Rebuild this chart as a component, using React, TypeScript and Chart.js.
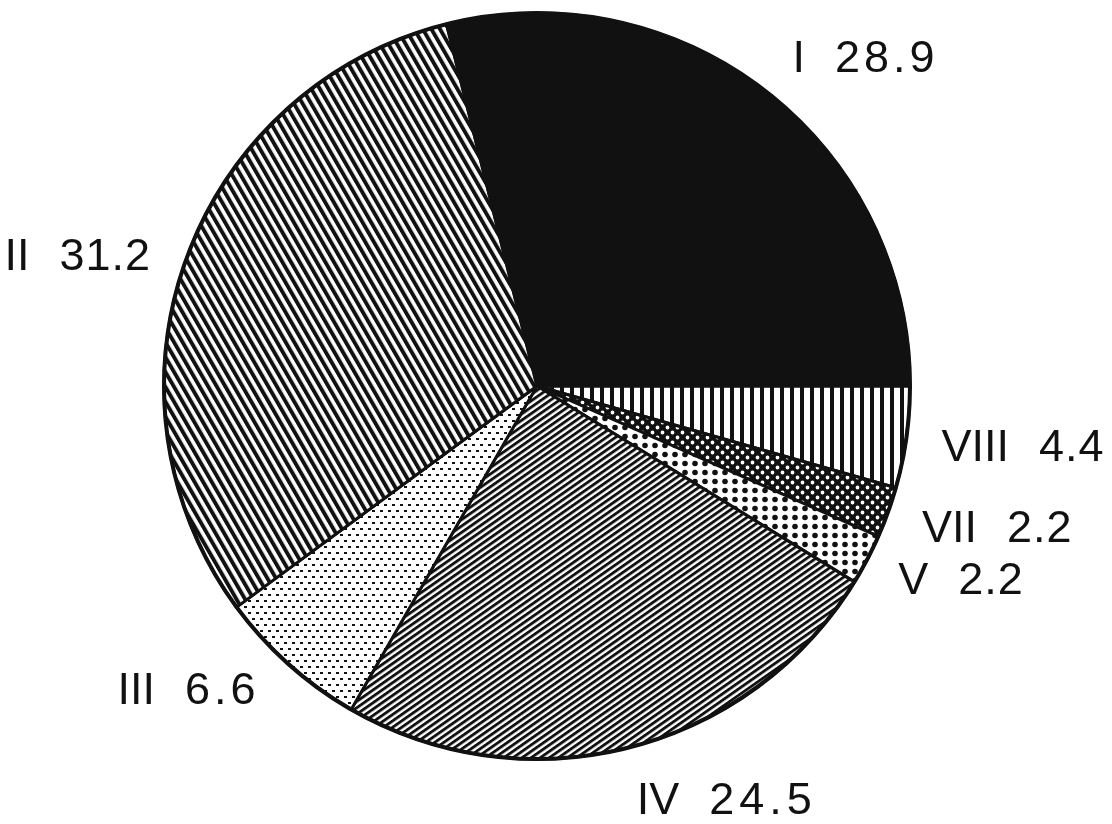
import React, { useEffect, useRef } from 'react';
import { Chart, registerables } from 'chart.js';

Chart.register(...registerables);

// Data (counter-clockwise from 3 o'clock in the reference)
const categories = ['I', 'II', 'III', 'IV', 'V', 'VII', 'VIII'];
const values = [28.9, 31.2, 6.6, 24.5, 2.2, 2.2, 4.4];
const valueLabels = ['28.9', '31.2', '6.6', '24.5', '2.2', '2.2', '4.4'];

// Label placement relative to the outer midpoint of each slice (styling only)
const labelPlacement: { dx: number; dy: number; align: 'left' | 'right'; ls: number }[] = [
  { dx: 26, dy: -32, align: 'left', ls: 4 },
  { dx: -36, dy: -2, align: 'right', ls: 1 },
  { dx: -33, dy: 27, align: 'right', ls: 4 },
  { dx: 8, dy: 54, align: 'left', ls: 5 },
  { dx: 31, dy: 22, align: 'left', ls: 1 },
  { dx: 34, dy: 17, align: 'left', ls: 1 },
  { dx: 35, dy: 11, align: 'left', ls: 1 },
];

const INK = '#111111';

function tile(w: number, h: number, draw: (c: CanvasRenderingContext2D) => void) {
  const c = document.createElement('canvas');
  c.width = w;
  c.height = h;
  const x = c.getContext('2d')!;
  x.fillStyle = '#ffffff';
  x.fillRect(0, 0, w, h);
  x.fillStyle = INK;
  draw(x);
  return c;
}

function makePatterns(ctx: CanvasRenderingContext2D) {
  const pat = (c: HTMLCanvasElement, m?: DOMMatrix) => {
    const p = ctx.createPattern(c, 'repeat')!;
    if (m) p.setTransform(m);
    return p;
  };
  // I: solid
  const pI = INK;
  // II: steep "\" stripes
  const pII = pat(
    tile(8, 8, (x) => x.fillRect(0, 0, 4.2, 8)),
    new DOMMatrix().rotateSelf(-30).scaleSelf(0.93, 0.93)
  );
  // III: fine staggered dashes
  const pIII = pat(
    tile(8, 12, (x) => {
      x.fillRect(0, 0, 3, 2);
      x.fillRect(4, 6, 3, 2);
    })
  );
  // IV: dense "/" stripes
  const pIV = pat(
    tile(6, 6, (x) => x.fillRect(0, 0, 3.3, 6)),
    new DOMMatrix().rotateSelf(55).scaleSelf(0.87, 0.87)
  );
  // V: coarse dots
  const pV = pat(
    tile(10, 9, (x) => {
      x.beginPath();
      x.arc(5, 4.5, 2.8, 0, Math.PI * 2);
      x.fill();
    })
  );
  // VII: black with white diamond dots
  const pVII = pat(
    tile(10, 10, (x) => {
      x.fillRect(0, 0, 10, 10);
      x.fillStyle = '#ffffff';
      x.beginPath();
      x.arc(2.5, 2.5, 1.9, 0, Math.PI * 2);
      x.arc(7.5, 7.5, 1.9, 0, Math.PI * 2);
      x.fill();
    })
  );
  // VIII: vertical stripes
  const pVIII = pat(tile(10, 10, (x) => x.fillRect(0, 0, 4, 10)));
  return [pI, pII, pIII, pIV, pV, pVII, pVIII];
}

const labelPlugin = {
  id: 'sliceLabels',
  afterDatasetsDraw(chart: any) {
    const ctx: any = chart.ctx;
    const meta = chart.getDatasetMeta(0);
    const n = categories.length;
    ctx.save();
    ctx.fillStyle = INK;
    ctx.font = '45px "Liberation Sans", Arial, sans-serif';
    ctx.textBaseline = 'middle';
    const gap = 30;
    meta.data.forEach((arc: any, j: number) => {
      const i = n - 1 - j; // chart order is reversed
      const p = arc.getProps(['x', 'y', 'startAngle', 'endAngle', 'outerRadius'], true);
      const mid = (p.startAngle + p.endAngle) / 2;
      const ax = p.x + Math.cos(mid) * p.outerRadius;
      const ay = p.y + Math.sin(mid) * p.outerRadius;
      const pl = labelPlacement[i];
      const tx = ax + pl.dx;
      const ty = ay + pl.dy;
      const name = categories[i];
      const val = valueLabels[i];
      ctx.letterSpacing = '0px';
      const nameW = ctx.measureText(name).width;
      ctx.letterSpacing = pl.ls + 'px';
      const valW = ctx.measureText(val).width - pl.ls;
      if (pl.align === 'left') {
        ctx.textAlign = 'left';
        ctx.letterSpacing = '0px';
        ctx.fillText(name, tx, ty);
        ctx.letterSpacing = pl.ls + 'px';
        ctx.fillText(val, tx + nameW + gap, ty);
      } else {
        ctx.textAlign = 'left';
        ctx.letterSpacing = pl.ls + 'px';
        ctx.fillText(val, tx - valW, ty);
        ctx.letterSpacing = '0px';
        ctx.fillText(name, tx - valW - gap - nameW, ty);
      }
    });
    ctx.letterSpacing = '0px';
    // outer outline
    const a0 = meta.data[0].getProps(['x', 'y', 'outerRadius'], true);
    ctx.beginPath();
    ctx.lineWidth = 4;
    ctx.strokeStyle = INK;
    ctx.arc(a0.x, a0.y, a0.outerRadius, 0, Math.PI * 2);
    ctx.stroke();
    ctx.restore();
  },
};

const bgPlugin = {
  id: 'whiteBg',
  beforeDraw(chart: any) {
    const ctx = chart.ctx;
    ctx.save();
    ctx.fillStyle = '#ffffff';
    ctx.fillRect(0, 0, chart.width, chart.height);
    ctx.restore();
  },
};

export default function App() {
  const ref = useRef<HTMLCanvasElement>(null);
  useEffect(() => {
    const canvas = ref.current!;
    const ctx = canvas.getContext('2d')!;
    const patterns = makePatterns(ctx);
    const order = categories.map((_, i) => i).reverse();
    const chart = new Chart(canvas, {
      type: 'pie',
      data: {
        labels: order.map((i) => categories[i]),
        datasets: [
          {
            data: order.map((i) => values[i]),
            backgroundColor: order.map((i) => patterns[i]) as any,
            borderColor: INK,
            borderWidth: 3,
          },
        ],
      },
      options: {
        responsive: false,
        animation: false,
        devicePixelRatio: 1,
        rotation: 90,
        radius: 373,
        layout: { padding: { left: 0, right: 38, top: 0, bottom: 52 } },
        plugins: { legend: { display: false }, tooltip: { enabled: false } },
        events: [],
      },
      plugins: [bgPlugin, labelPlugin],
    });
    return () => chart.destroy();
  }, []);
  return (
    <div style={{ position: 'absolute', left: 0, top: 0, width: 1112, height: 824, background: '#fff' }}>
      <canvas ref={ref} width={1112} height={824} style={{ display: 'block' }} />
    </div>
  );
}
